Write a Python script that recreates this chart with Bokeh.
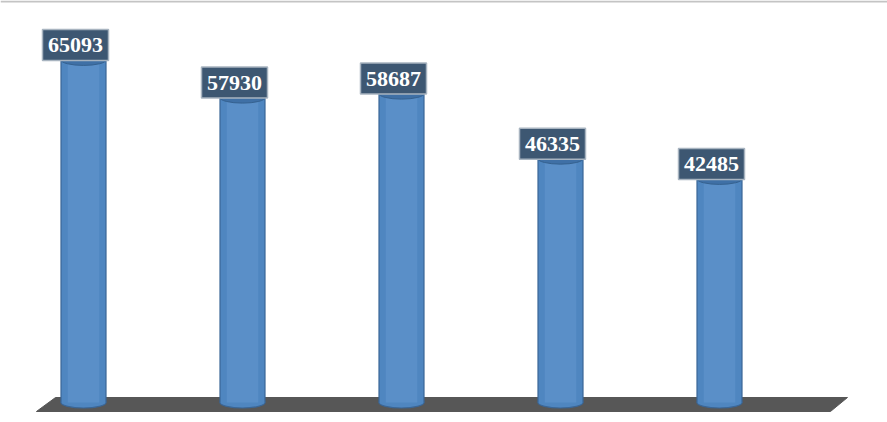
from bokeh.plotting import figure
from bokeh.models import Range1d, ColumnDataSource, Span
from bokeh.core.properties import value
from bokeh.embed import file_html
from bokeh.resources import INLINE

categories = ["1", "2", "3", "4", "5"]
values = [65093, 57930, 58687, 46335, 42485]
labels = [str(v) for v in values]

W, H = 887, 422
n = len(values)
xs = list(range(n))

p = figure(width=W, height=H, output_backend="svg", toolbar_location=None,
           x_range=Range1d(-0.522, 5.0566), y_range=Range1d(-3800, 76380),
           min_border=0, outline_line_color=None, background_fill_color="white")
p.axis.visible = False
p.grid.visible = False

p.add_layout(Span(location=76380 - 200, dimension="width", line_color="#c4c4c4", line_width=2))

# floor
fx = [-0.176, n - 1 + 0.805, n - 1 + 0.698, -0.296]
fy = [950, 950, -1710, -1710]
p.patch(fx, fy, fill_color="#575757", line_color="#575757")

src = ColumnDataSource(dict(x=xs, top=values, lab=labels,
                            lx=[x - 8 / 159 for x in xs],
                            ly=[v + 15 * 190 for v in values]))

bw = 45 / 159
# bottom ellipse
p.ellipse(x="x", y=0, width=45, height=11, width_units="screen", height_units="screen",
          source=src, fill_color="#4F86C0", line_color="#3A6696", line_width=1.2)
# body
p.vbar(x="x", top="top", bottom=0, width=bw, source=src,
       fill_color="#4F86C0", line_color=None)
p.vbar(x="x", top="top", bottom=0, width=bw * 0.7, source=src,
       fill_color="#5A8FC8", line_color=None)
p.segment(x0=[x - bw / 2 for x in xs], y0=0, x1=[x - bw / 2 for x in xs], y1=values,
          line_color="#3A6696", line_width=1.2)
p.segment(x0=[x + bw / 2 for x in xs], y0=0, x1=[x + bw / 2 for x in xs], y1=values,
          line_color="#3A6696", line_width=1.2)
# top ellipse
p.ellipse(x="x", y="top", width=45, height=11, width_units="screen", height_units="screen",
          source=src, fill_color="#3F70A6", line_color="#35618F")

# label boxes
p.rect(x="lx", y="ly", width=66, height=31, width_units="screen", height_units="screen",
       source=src, fill_color="#3D5772", line_color="#A8B4C0", line_width=1.5)
p.text(x="lx", y="ly", text="lab", source=src, text_align="center", text_baseline="middle",
       text_font=value("Liberation Serif"), text_font_style="bold", text_font_size="22px",
       text_color="white")

open("out.html", "w").write(file_html(p, INLINE))
